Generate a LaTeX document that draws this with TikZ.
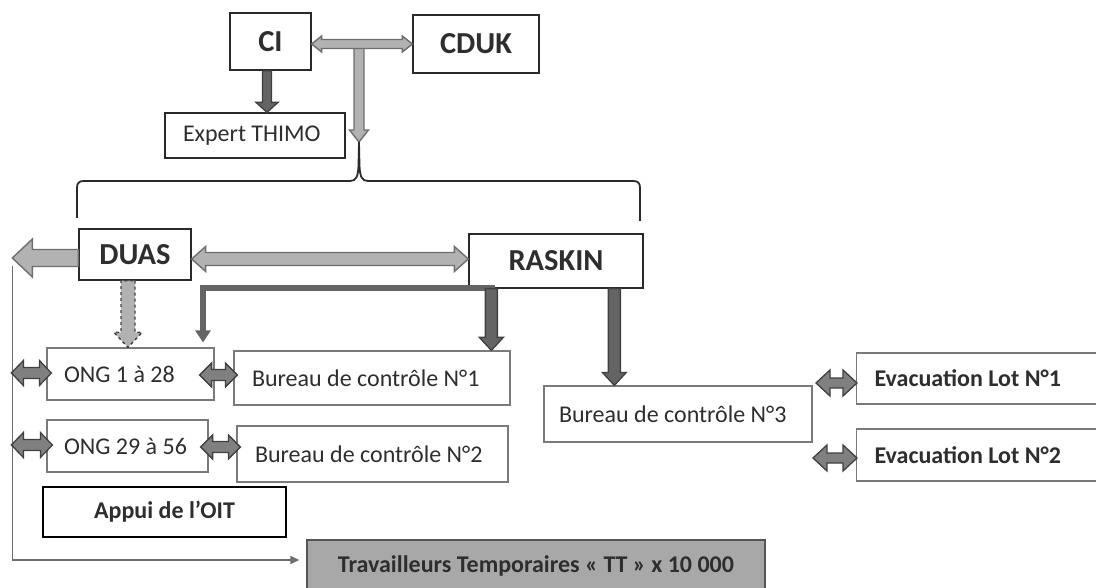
\documentclass[tikz,border=0pt]{standalone}
\usepackage{fontspec}
\setmainfont{Carlito}
\usetikzlibrary{calc,arrows.meta}
\definecolor{lightf}{HTML}{B2B2B2}
\definecolor{lighto}{HTML}{6E6E6E}
\definecolor{darkf}{HTML}{646464}
\definecolor{darko}{HTML}{404040}
\definecolor{medf}{HTML}{808080}
\definecolor{ttfill}{HTML}{A8A8A8}
\definecolor{ttdraw}{HTML}{555555}
\definecolor{boxgray}{HTML}{7A7A7A}
\definecolor{boxdark}{HTML}{2A2A2A}
\definecolor{txt}{HTML}{2E2E2E}
\newcommand\lefttxt[2]{\makebox[#1][l]{#2}}
\newcommand\sgarrow[6]{%
 \coordinate (ba-a) at #2; \coordinate (ba-b) at #3;
 \coordinate (ba-c) at ($(ba-b)!#6!(ba-a)$);
 \draw[#1] ($(ba-a)!#4!90:(ba-b)$) -- ($(ba-c)!#4!90:(ba-b)$) -- ($(ba-c)!#5!90:(ba-b)$) -- (ba-b) -- ($(ba-c)!#5!-90:(ba-b)$) -- ($(ba-c)!#4!-90:(ba-b)$) -- ($(ba-a)!#4!-90:(ba-b)$) -- cycle;}
\newcommand\dbarrow[6]{%
 \coordinate (ba-a) at #2; \coordinate (ba-b) at #3;
 \coordinate (ba-c) at ($(ba-a)!#6!(ba-b)$);
 \coordinate (ba-d) at ($(ba-b)!#6!(ba-a)$);
 \draw[#1] (ba-a) -- ($(ba-c)!#5!90:(ba-b)$) -- ($(ba-c)!#4!90:(ba-b)$) -- ($(ba-d)!#4!90:(ba-b)$) -- ($(ba-d)!#5!90:(ba-b)$) -- (ba-b) -- ($(ba-d)!#5!-90:(ba-b)$) -- ($(ba-d)!#4!-90:(ba-b)$) -- ($(ba-c)!#4!-90:(ba-b)$) -- ($(ba-c)!#5!-90:(ba-b)$) -- cycle;}
\tikzset{
 box/.style={draw=boxgray, line width=1.2pt, fill=white, text=txt, inner sep=0pt, font=\fontsize{24}{28}\selectfont},
 boldbox/.style={box, font=\fontsize{24}{28}\selectfont\bfseries},
 bigbox/.style={box, draw=boxdark, line width=1.3pt, font=\fontsize{30.5}{34}\selectfont\bfseries},
 lightarrow/.style={fill=lightf, draw=lighto, line width=1.4pt},
 darkarrow/.style={fill=darkf, draw=darko, line width=1.3pt},
 medarrow/.style={fill=medf, draw=darko, line width=1.3pt},
 dasharrow/.style={fill=lightf, draw=darko, line width=1.4pt, dashed},
 bracel/.style={draw=boxdark, line width=1.8pt},
 thinl/.style={draw=lighto, line width=1.6pt},
 lshape/.style={draw=darkf, line width=6pt}
}
\begin{document}
\begin{tikzpicture}[x=1pt,y=-1pt]
\useasboundingbox (0,0) rectangle (1096,588);
\fill[white] (0,0) rectangle (1096,588);
\clip (0,0) rectangle (1096,588);
% nodes
\node[bigbox, minimum width=81pt, minimum height=57pt] (ci) at (270.5,41.5) {CI};
\node[bigbox, minimum width=126pt, minimum height=58pt] (cduk) at (476,44) {CDUK};
\node[box, draw=boxdark, inner xsep=18pt, minimum height=45pt] (expert) at (255,135.5) {\lefttxt{144pt}{Expert THIMO}};
\node[bigbox, minimum width=112pt, minimum height=51pt] (duas) at (135,254.5) {DUAS};
\node[bigbox, minimum width=174pt, minimum height=54pt] (raskin) at (556,261) {RASKIN};
\node[box, inner xsep=17pt, minimum height=52pt] (ong1) at (130.5,374) {\lefttxt{133pt}{ONG 1 à 28}};
\node[box, inner xsep=18pt, minimum height=54pt] (b1) at (372,378) {\lefttxt{240pt}{Bureau de contrôle N°1}};
\node[box, inner xsep=17pt, minimum height=52pt] (ong2) at (127.5,446) {\lefttxt{127pt}{ONG 29 à 56}};
\node[box, inner xsep=18pt, minimum height=56pt] (b2) at (372.5,454) {\lefttxt{235pt}{Bureau de contrôle N°2}};
\node[boldbox, draw=black, line width=2pt, minimum width=243pt, minimum height=50pt] (appui) at (164.5,512) {Appui de l’OIT};
\node[box, inner xsep=15pt, minimum height=56pt] (b3) at (678,414) {\lefttxt{238pt}{Bureau de contrôle N°3}};
\node[boldbox, anchor=west, inner xsep=18pt, minimum height=51pt] (ev1) at (856,378.5) {\lefttxt{222pt}{Evacuation Lot N°1}};
\node[boldbox, anchor=west, inner xsep=18pt, minimum height=52pt] (ev2) at (856,455) {\lefttxt{222pt}{Evacuation Lot N°2}};
\node[boldbox, fill=ttfill, draw=ttdraw, line width=1.5pt, anchor=base, text height=32pt, text depth=20pt, minimum width=458pt] (tt) at (536,572) {Travailleurs Temporaires « TT » x 10 000};
% top arrows
\coordinate (j) at ($(ci.east)!0.47!(cduk.west)$);
\coordinate (bt) at (359,142);
\sgarrow{lightarrow}{(j)}{(j |- bt)}{5pt}{9.5pt}{12pt}
\dbarrow{lightarrow}{($(ci.east)+(0,2.5)$)}{($(ci.east -| cduk.west)+(0,2.5)$)}{4.5pt}{8pt}{10pt}
\coordinate (cis) at ($(ci.south)+(-3.5,0)$);
\sgarrow{darkarrow}{(cis)}{(cis |- expert.north)}{4.5pt}{11pt}{10pt}
% brace
\draw[bracel] (77,218) -- (77,188) .. controls (77,183) and (79,181) .. (84,181) -- (350,181) .. controls (356,181) and (358,177) .. (358.5,166) -- (bt) -- (359.5,166) .. controls (360,177) and (362,181) .. (368,181) -- (633,181) .. controls (638,181) and (640,183) .. (640,188) -- (640,221);
% DUAS arrows
\coordinate (la) at ($(duas.west)+(-66,3.5)$);
\draw[thinl,-{Triangle[length=9pt,width=8pt]}] ($(la)+(0,8)$) |- ($(tt.west)+(-7,-6)$);
\sgarrow{lightarrow}{($(duas.west)+(0,3.5)$)}{(la)}{8.5pt}{19pt}{20pt}
\dbarrow{lightarrow}{($(duas.east)+(0,4.5)$)}{($(duas.east -| raskin.west)+(0,4.5)$)}{6.5pt}{12.5pt}{14pt}
\coordinate (ds) at ($(duas.south)+(-7,0)$);
\sgarrow{dasharrow}{(ds)}{(ds |- ong1.north)}{7pt}{14pt}{15pt}
% RASKIN arrows
\coordinate (rs1) at ($(raskin.south west)+(23,0)$);
\coordinate (rs2) at ($(raskin.south west)+(146,0)$);
\draw[lshape,-{Triangle[length=12pt,width=15pt]}] ($(rs1)+(4,-1)$) -| ($(ong1.north)+(72.5,-5)$);
\sgarrow{darkarrow}{(rs1)}{(rs1 |- b1.north)}{6pt}{12pt}{13pt}
\sgarrow{darkarrow}{(rs2)}{(rs2 |- b3.north)}{6pt}{12pt}{13pt}
% short double arrows
\dbarrow{medarrow}{($(ong1.east)+(-15,1)$)}{($(b1.west)+(4,-3)$)}{5.5pt}{12pt}{12pt}
\dbarrow{medarrow}{($(ong2.east)+(-8,1)$)}{($(b2.west)+(4,-7)$)}{5.5pt}{12pt}{12pt}
\dbarrow{medarrow}{($(ong1.west)+(-35,-1)$)}{($(ong1.west)+(5,-1)$)}{5.5pt}{12.5pt}{12pt}
\dbarrow{medarrow}{($(ong2.west)+(-35,-1)$)}{($(ong2.west)+(6,-1)$)}{5.5pt}{12.5pt}{12pt}
\dbarrow{medarrow}{($(ev1.west)+(-40,4.5)$)}{($(ev1.west)+(1,4.5)$)}{5pt}{13pt}{14pt}
\dbarrow{medarrow}{($(ev2.west)+(-43,3)$)}{($(ev2.west)+(1,3)$)}{5pt}{13pt}{14pt}
\end{tikzpicture}
\end{document}
